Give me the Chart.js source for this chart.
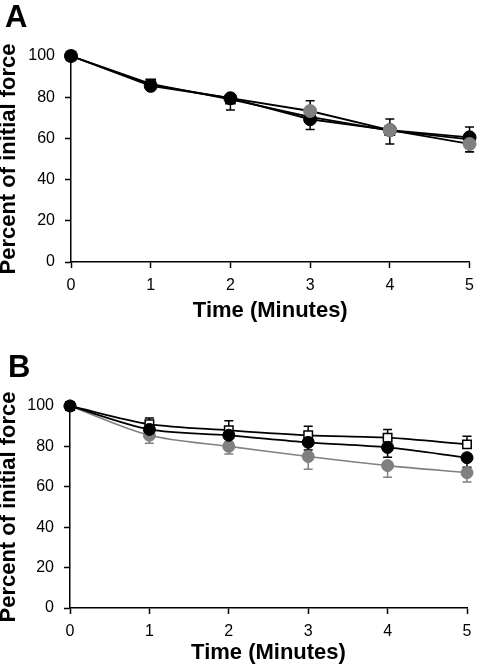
<!DOCTYPE html>
<html>
<head>
<meta charset="utf-8">
<script src="https://cdn.jsdelivr.net/npm/chart.js@4.4.0/dist/chart.umd.min.js"></script>
<style>
  html, body { margin: 0; padding: 0; background: #fff; }
  canvas { display: block; }
</style>
</head>
<body>
<canvas id="chartA" width="482" height="330"></canvas>
<canvas id="chartB" width="482" height="337"></canvas>
<script>
// x values (minutes)
const times = [0, 1, 2, 3, 4, 5];

// Panel A - percent of initial force
const aBlack      = [100, 85.5, 79.5, 69.3, 64.0, 60.5];
const aSquare     = [100, 86.5, 79.0, 70.5, 63.8, 59.5];
const aGray       = [100, 86.0, 79.5, 73.3, 64.0, 57.3];
const aBlackDown  = [0, 0, 5.7, 5.0, 0, 7.0];
const aSquareUp   = [0, 1.2, 2.0, 0, 0, 6.0];
const aGrayUp     = [0, 0, 0, 5.0, 5.4, 0];
const aGrayDown   = [0, 0, 0, 0, 6.7, 3.8];

// Panel B
const bBlack      = [100, 88.4, 85.5, 82.0, 79.5, 74.4];
const bSquare     = [100, 91.0, 88.0, 85.5, 84.3, 81.0];
const bGray       = [100, 85.5, 80.0, 75.0, 70.5, 67.0];
const bBlackDown  = [0, 0, 3.5, 3.8, 4.9, 4.7];
const bSquareUp   = [0, 3.0, 4.7, 4.5, 4.1, 4.0];
const bGrayDown   = [0, 4.0, 3.8, 6.3, 5.8, 4.6];

const FONT = '"Liberation Sans", Arial, Helvetica, sans-serif';
const GRAY = '#808080';

const toPts = vals => vals.map((v, i) => ({ x: times[i], y: v }));

// vertical error bars with caps, drawn under the markers
const errorBars = {
  id: 'errorBars',
  beforeDatasetsDraw(chart) {
    const { ctx, scales: { x, y } } = chart;
    chart.data.datasets.forEach(ds => {
      ctx.save();
      ctx.strokeStyle = ds.errColor || '#000';
      ctx.lineWidth = 1.5;
      ds.data.forEach((p, i) => {
        [[ds.errUp, 1], [ds.errDown, -1]].forEach(([arr, dir]) => {
          if (!arr || !arr[i]) return;
          const px = x.getPixelForValue(p.x);
          const py0 = y.getPixelForValue(p.y);
          const py1 = y.getPixelForValue(p.y + dir * arr[i]);
          ctx.beginPath();
          ctx.moveTo(px, py0); ctx.lineTo(px, py1);
          ctx.moveTo(px - 4.5, py1); ctx.lineTo(px + 4.5, py1);
          ctx.stroke();
        });
      });
      ctx.restore();
    });
  }
};

const panelLetter = {
  id: 'panelLetter',
  afterDraw(chart, args, opts) {
    const ctx = chart.ctx;
    ctx.save();
    ctx.font = 'bold 31px ' + FONT;
    ctx.fillStyle = '#000';
    ctx.fillText(opts.text, opts.x, opts.y);
    ctx.restore();
  }
};

function makeOptions(p) {
  return {
    responsive: false,
    animation: false,
    layout: { padding: { top: p.top, right: p.right, left: 0, bottom: 0 } },
    plugins: {
      legend: { display: false },
      tooltip: { enabled: false },
      panelLetter: p.letter
    },
    scales: {
      x: {
        type: 'linear', min: 0, max: 5,
        afterFit: s => { s.height = p.xHeight; },
        border: { display: true, color: '#000', width: 1.5 },
        grid: { drawOnChartArea: false, drawTicks: true, tickLength: 6, tickColor: '#000', tickWidth: 1.5 },
        ticks: { stepSize: 1, color: '#000', padding: 8, font: { family: FONT, size: 16 } },
        title: { display: true, text: 'Time (Minutes)', color: '#000',
                 padding: { top: 0, bottom: p.xTitlePad },
                 font: { family: FONT, size: 22, weight: 'bold' } }
      },
      y: {
        min: 0, max: 100,
        afterFit: s => { s.width = p.yWidth; },
        border: { display: true, color: '#000', width: 1.5 },
        grid: { drawOnChartArea: false, drawTicks: true, tickLength: 6, tickColor: '#000', tickWidth: 1.5 },
        ticks: { stepSize: 20, color: '#000', padding: 10, font: { family: FONT, size: 16 } },
        title: { display: true, text: 'Percent of initial force', color: '#000',
                 padding: { top: 0, bottom: 0 },
                 font: { family: FONT, size: 22, weight: 'bold', lineHeight: 0.85 } }
      }
    }
  };
}

function series(vals, opts) {
  return Object.assign({
    data: toPts(vals),
    borderColor: '#000',
    borderWidth: 1.8,
    pointRadius: 6.5,
    pointBorderWidth: 1,
    pointBackgroundColor: '#000',
    pointBorderColor: '#000',
    clip: false,
    errColor: '#000'
  }, opts);
}

// Panel A: gray markers on top from minute 3 on
new Chart(document.getElementById('chartA'), {
  type: 'line',
  data: {
    datasets: [
      series(aGray, { pointBackgroundColor: GRAY, pointBorderColor: GRAY, errUp: aGrayUp, errDown: aGrayDown,
                      pointRadius: [0, 0, 0, 6.5, 6.5, 6.5], tension: 0 }),
      series(aBlack, { errDown: aBlackDown, tension: 0 }),
      series(aSquare, { pointStyle: 'rect', pointRadius: 6.5, pointBorderWidth: 1.5, pointBackgroundColor: '#fff',
                        errUp: aSquareUp, tension: 0 })
    ]
  },
  options: makeOptions({ top: 56, right: 12, xHeight: 68, yWidth: 71, xTitlePad: 6,
                         letter: { text: 'A', x: 5, y: 27 } }),
  plugins: [errorBars, panelLetter]
});

// Panel B: black on top, then square, then gray
new Chart(document.getElementById('chartB'), {
  type: 'line',
  data: {
    datasets: [
      series(bBlack, { errDown: bBlackDown, tension: 0.3, pointRadius: 6 }),
      series(bSquare, { pointStyle: 'rect', pointRadius: 6, pointBorderWidth: 1.5, pointBackgroundColor: '#fff',
                        errUp: bSquareUp, tension: 0.3 }),
      series(bGray, { borderColor: GRAY, borderWidth: 1.6, pointBackgroundColor: GRAY, pointBorderColor: GRAY,
                      errColor: GRAY, errDown: bGrayDown, tension: 0.3, pointRadius: 6 })
    ]
  },
  options: makeOptions({ top: 76, right: 15, xHeight: 59, yWidth: 70, xTitlePad: 1,
                         letter: { text: 'B', x: 8, y: 47 } }),
  plugins: [errorBars, panelLetter]
});
</script>
</body>
</html>
